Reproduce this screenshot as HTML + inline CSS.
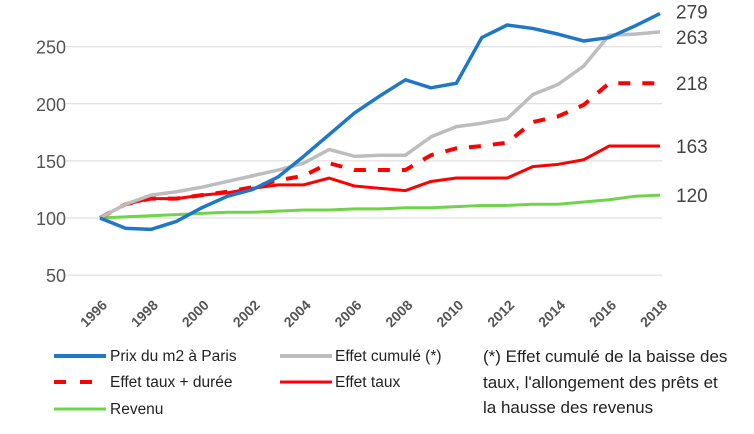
<!DOCTYPE html>
<html><head><meta charset="utf-8"><style>
body{margin:0;background:#fff;width:754px;height:429px;overflow:hidden;font-family:"Liberation Sans",sans-serif}
svg text{font-family:"Liberation Sans",sans-serif}
</style></head><body>
<svg id="chart" width="754" height="429">
<g id="grid"></g><g id="series"></g><g id="labels"></g>
<g font-size="15.5" fill="#222">
 <line x1="54" y1="356" x2="106" y2="356" stroke="#1f77c8" stroke-width="4"/>
 <text x="110" y="361">Prix du m2 à Paris</text>
 <line x1="280" y1="356" x2="332" y2="356" stroke="#bdbdbd" stroke-width="4"/>
 <text x="335" y="361">Effet cumulé (*)</text>
 <line x1="54" y1="382" x2="106" y2="382" stroke="#f00" stroke-width="4" stroke-dasharray="12,14"/>
 <text x="110" y="387">Effet taux + durée</text>
 <line x1="280" y1="382" x2="332" y2="382" stroke="#f00" stroke-width="3"/>
 <text x="335" y="387">Effet taux</text>
 <line x1="54" y1="409" x2="106" y2="409" stroke="#6fd44a" stroke-width="3"/>
 <text x="110" y="414">Revenu</text>
 <text x="483" y="362" font-size="17">(*) Effet cumulé de la baisse  des</text>
 <text x="483" y="388" font-size="17">taux, l'allongement des prêts et</text>
 <text x="483" y="413" font-size="17">la hausse des revenus</text>
</g>
</svg>
<script>
const years=[1996,1997,1998,1999,2000,2001,2002,2003,2004,2005,2006,2007,2008,2009,2010,2011,2012,2013,2014,2015,2016,2017,2018];
const prix=[100,91,90,97,109,119,125,136,154,173,192,207,221,214,218,258,269,266,261,255,258,268,279];
const cumul=[100,112,120,123,127,132,137,142,148,160,154,155,155,171,180,183,187,208,217,233,260,261,263];
const tauxDuree=[100,112,117,117,120,123,127,133,137,148,142,142,142,155,161,163,166,184,189,199,218,218,218];
const taux=[100,112,117,117,120,122,126,129,129,135,128,126,124,132,135,135,135,145,147,151,163,163,163];
const revenu=[100,101,102,103,104,105,105,106,107,107,108,108,109,109,110,111,111,112,112,114,116,119,120];
const yTicks=[50,100,150,200,250];
const xTicks=[1996,1998,2000,2002,2004,2006,2008,2010,2012,2014,2016,2018];
const endLabels=["279","263","218","163","120"];
const NS="http://www.w3.org/2000/svg";
const X=y=>100+(y-1996)*(560/22);
const Y=v=>218-(v-100)*(57.1/50);
function mk(t,a,p){const e=document.createElementNS(NS,t);for(const k in a)e.setAttribute(k,a[k]);p.appendChild(e);return e;}
const grid=document.getElementById('grid');
yTicks.forEach(v=>{
 const l=mk('line',{x1:66,x2:662,y1:Y(v),y2:Y(v),stroke:'#d9d9d9','stroke-width':1},grid);
 
 
 const t=mk('text',{x:66,y:Y(v)+7,'text-anchor':'end','font-size':18,fill:'#555'},grid);
 t.textContent=v;
 
 
});
xTicks.forEach(yr=>{
 const t=mk('text',{transform:`translate(${X(yr)+8},${306}) rotate(-45)`,'text-anchor':'end','font-size':14,'font-weight':'bold',fill:'#555'},grid);
 t.textContent=yr;
 
 
});
const ser=document.getElementById('series');
const defs=[[revenu,'#6fd44a',3,null,'revenu-line'],[taux,'#f00',3,null,'effet-taux-line'],[tauxDuree,'#f00',4,'12,12','effet-taux-duree-line'],[cumul,'#bdbdbd',3.5,null,'effet-cumule-line'],[prix,'#1f77c8',3.5,null,'prix-line']];
defs.forEach(([d,c,w,da,n])=>{
 const p=mk('polyline',{points:d.map((v,i)=>X(years[i])+','+Y(v)).join(' '),fill:'none',stroke:c,'stroke-width':w,'stroke-linejoin':'round'},ser);
 if(da)p.setAttribute('stroke-dasharray',da);
 
 
});
const lab=document.getElementById('labels');
const last=[prix,cumul,tauxDuree,taux,revenu];
const offs=[-2,5,0,0,0];
last.forEach((d,i)=>{
 const t=mk('text',{x:676,y:Y(d[d.length-1])+7+offs[i],'font-size':19,fill:'#444'},lab);
 t.textContent=endLabels[i];
 
 
});
</script>
</body></html>
